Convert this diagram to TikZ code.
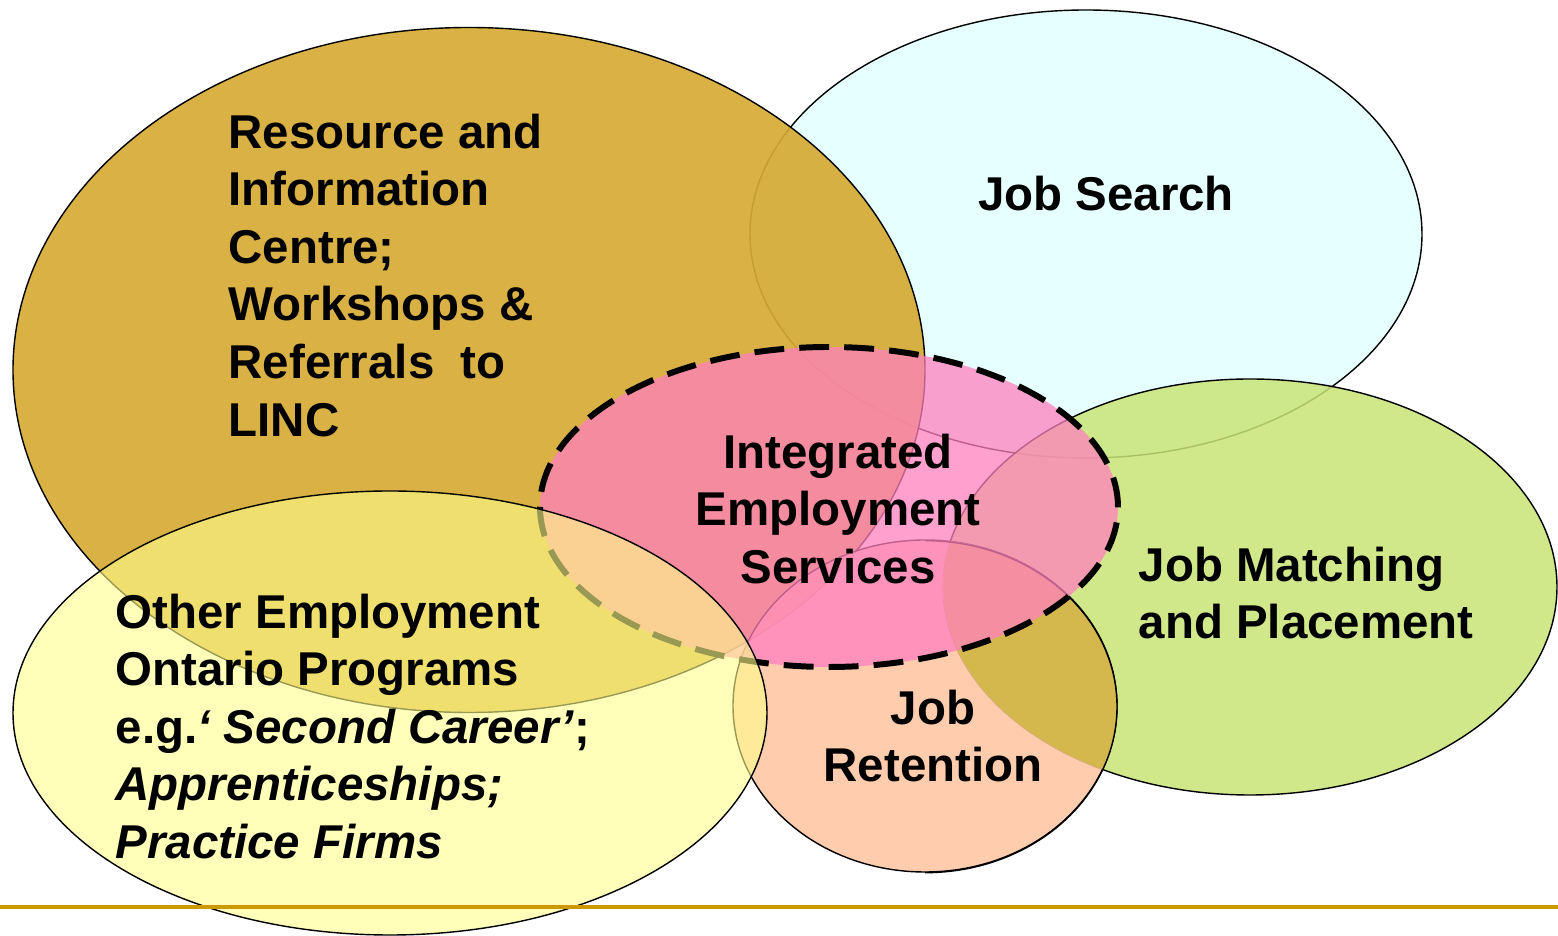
\documentclass[tikz,border=0pt]{standalone}
\usepackage{fontspec}
\setmainfont{Liberation Sans}
\usetikzlibrary{positioning,shapes.geometric}
\definecolor{resbrown}{RGB}{214,170,52}
\definecolor{searchcyan}{RGB}{230,255,255}
\definecolor{matchgreen}{RGB}{200,228,118}
\definecolor{retpeach}{RGB}{255,196,160}
\definecolor{olivemix}{RGB}{212,184,78}
\definecolor{iespink}{RGB}{255,128,190}
\definecolor{otheryellow}{RGB}{255,255,140}
\definecolor{rulegold}{RGB}{204,153,0}
\tikzset{
    area/.style = {
        draw,
        shape=ellipse,
        inner sep=0pt,
        line width=0.4pt
    },
    ies/.style = {
        draw,
        shape=ellipse,
        inner sep=0pt,
        line width=1.7pt,
        dash pattern=on 8.5pt off 4.3pt
    },
    txt/.style = {
        font=\fontsize{13.5pt}{16.4pt}\selectfont\bfseries,
        inner sep=0pt
    },
}

\begin{document}
\begin{tikzpicture}
        \useasboundingbox (0,0) rectangle (15.58,-9.36);

        % circles, back to front
        \node[area, fill=searchcyan, minimum width=6.72cm, minimum height=4.48cm] (search) at (10.86,-2.34) {};
        \node[area, fill=resbrown, fill opacity=0.92, minimum width=9.12cm, minimum height=6.85cm] (resource) at (4.69,-3.70) {};
        \node[area, fill=matchgreen, fill opacity=0.85, minimum width=6.14cm, minimum height=4.16cm] (match) at (12.50,-5.87) {};
        \node[area, fill=retpeach, fill opacity=0.85, minimum width=3.84cm, minimum height=3.32cm] (retention) at (9.25,-7.06) {};
        \begin{scope}
            \clip (9.25,-7.06) ellipse (1.92cm and 1.66cm);
            \fill[olivemix] (12.50,-5.87) ellipse (3.07cm and 2.08cm);
        \end{scope}
        \draw[line width=0.4pt] (retention.south) arc[start angle=-90, end angle=90, x radius=1.92cm, y radius=1.66cm];
        \node[ies, fill=iespink, fill opacity=0.75, minimum width=5.78cm, minimum height=3.20cm] (integrated) at (8.29,-5.07) {};
        \node[area, fill=otheryellow, fill opacity=0.6, draw opacity=1, minimum width=7.54cm, minimum height=4.44cm] (other) at (3.90,-7.13) {};

        \draw[rulegold, line width=1.2pt] (0,-9.07) coordinate (rulel) -- (15.58,-9.07) coordinate (ruler);

        % labels
        \node[txt, align=left, anchor=north west] (restext) at (2.28,-1.13)
            {Resource and\\Information\\Centre;\\Workshops \&\\Referrals\ \ to\\LINC};
        \node[txt, anchor=base] (searchtext) at (11.06,-2.11) {Job Search};
        \node[txt, align=center, anchor=north] (iestext) at (8.38,-4.33)
            {Integrated\\Employment\\Services};
        \node[txt, align=left, anchor=north west] (matchtext) at (11.38,-5.46)
            {Job Matching\\and Placement};
        \node[txt, align=center, anchor=north] (rettext) at (9.33,-6.89)
            {Job\\Retention};
        \node[txt, align=left, anchor=north west] (othertext) at (1.15,-5.93)
            {Other Employment\\Ontario Programs\\e.g.\textit{`\ Second Career'};\\\textit{Apprenticeships;}\\\textit{Practice Firms}};
\end{tikzpicture}
\end{document}
